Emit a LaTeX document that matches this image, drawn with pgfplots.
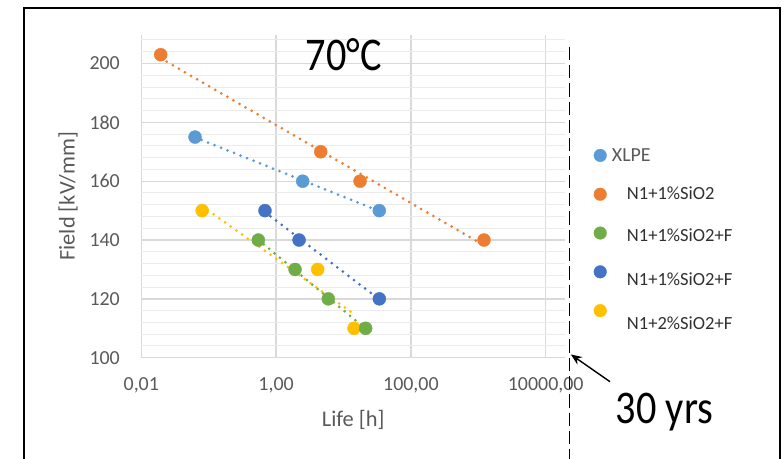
\documentclass[border=0pt]{standalone}
\usepackage{pgfplots}
\pgfplotsset{compat=1.18}
\usepackage{fontspec}
\setmainfont{Carlito}
\usetikzlibrary{arrows.meta}
\definecolor{cxlpe}{HTML}{5B9BD5}
\definecolor{corange}{HTML}{ED7D31}
\definecolor{cgreen}{HTML}{70AD47}
\definecolor{cblue}{HTML}{4472C4}
\definecolor{cyellow}{HTML}{FFC000}
\definecolor{ticktext}{HTML}{595959}
\definecolor{legtext}{HTML}{303030}
\definecolor{majgrid}{HTML}{D9D9D9}
\definecolor{mingrid}{HTML}{EBEBEB}
\begin{document}
\begin{tikzpicture}
\path[use as bounding box] (0bp,0bp) rectangle (784bp,459bp);
% outer frame
\draw[line width=2bp, black] (24bp,-5bp) -- (24bp,451bp) -- (779.7bp,451bp) -- (779.7bp,-5bp);
\begin{axis}[
  at={(141.3bp,101.3bp)}, anchor=south west,
  scale only axis, width=423.7bp, height=322.7bp,
  xmode=log, xmin=0.01, xmax=19320, ymin=100, ymax=209.7,
  axis lines*=left,
  x axis line style={draw=majgrid, line width=1.3bp},
  y axis line style={draw=none},
  major tick length=0pt, minor tick length=0pt,
  tick style={draw=none},
  xtick={0.01,1,100,10000},
  xticklabels={{0,01},{1,00},{100,00},{10000,00}},
  xminorticks=false,
  ytick={100,120,140,160,180,200},
  yticklabels={100,120,140,160,180,200},
  minor ytick={104,108,112,116,124,128,132,136,144,148,152,156,164,168,172,176,184,188,192,196,204,208},
  xmajorgrids, ymajorgrids, yminorgrids,
  major grid style={draw=majgrid, line width=1.3bp},
  minor grid style={draw=mingrid, line width=1bp},
  xticklabel style={font=\fontsize{20}{24}\selectfont, color=ticktext, inner sep=0pt, anchor=north, yshift=-20bp},
  yticklabel style={font=\fontsize{20}{24}\selectfont, color=ticktext, inner sep=0pt, anchor=east, xshift=-21.3bp},
  xlabel={Life [h]},
  ylabel={Field [kV/mm]},
  xlabel style={font=\fontsize{22.5}{27}\selectfont, color=ticktext, at={(axis description cs:0.5,-0.2138)}, anchor=base, inner sep=0pt},
  ylabel style={font=\fontsize{22.5}{27}\selectfont, color=ticktext, at={(axis description cs:-0.173,0.5)}, anchor=center, inner sep=0pt},
  clip=false,
  legend style={at={(axis description cs:1.0673,0.6875)}, anchor=north west, draw=none, fill=none, inner sep=0pt, row sep=0pt, column sep=5.2bp, font=\fontsize{20}{24}\selectfont, nodes={inner sep=0pt}},
  legend cell align=left,
  legend image code/.code={\path[draw=none,fill=none] (-6.5bp,-19.4bp) rectangle (6.5bp,19.4bp); \fill[#1] (0bp,0bp) circle (6.3bp);},
  scatterstyle/.style={only marks, mark=*, mark size=6.5bp, mark options={draw=none}},
  trendstyle/.style={no marks, line width=3bp, line cap=round, dash pattern=on 0pt off 7bp},
]
% data markers
\addplot[forget plot, scatterstyle, color=cxlpe] coordinates {(0.0627,175) (2.48,160) (33.9,150)};
\addplot[forget plot, scatterstyle, color=corange] coordinates {(0.0194,203) (4.59,170) (17.6,160) (1215,140)};
\addplot[forget plot, scatterstyle, color=cyellow] coordinates {(0.080,150) (4.14,130) (14.3,110)};
\addplot[forget plot, scatterstyle, color=cblue] coordinates {(0.684,150) (2.19,140) (34.0,120)};
\addplot[forget plot, scatterstyle, color=cgreen] coordinates {(0.545,140) (1.91,130) (5.95,120) (21.3,110)};
% trendlines
\addplot[forget plot, trendstyle, color=cxlpe] coordinates {(0.0627,174.9) (33.9,149.85)};
\addplot[forget plot, trendstyle, color=corange] coordinates {(0.0194,201.8) (1215,138.2)};
\addplot[forget plot, trendstyle, color=cgreen] coordinates {(0.545,140.05) (21.3,109.85)};
\addplot[forget plot, trendstyle, color=cblue] coordinates {(0.684,149.5) (34.0,119.8)};
\addplot[forget plot, trendstyle, color=cyellow] coordinates {(0.080,151.5) (14.3,114.85)};
% legend
\addlegendimage{only marks, color=cxlpe}
\addlegendentry{\textcolor{ticktext}{XLPE}}
\addlegendimage{only marks, color=corange}
\addlegendentry{\hspace{15bp}\raisebox{-5.8bp}[0pt][0pt]{\fontsize{18.6}{22}\selectfont\textcolor{legtext}{N1+1\%SiO2}}}
\addlegendimage{only marks, color=cgreen}
\addlegendentry{\hspace{15bp}\raisebox{-9bp}[0pt][0pt]{\fontsize{18.6}{22}\selectfont\textcolor{legtext}{N1+1\%SiO2+F}}}
\addlegendimage{only marks, color=cblue}
\addlegendentry{\hspace{15bp}\raisebox{-14.4bp}[0pt][0pt]{\fontsize{18.6}{22}\selectfont\textcolor{legtext}{N1+1\%SiO2+F}}}
\addlegendimage{only marks, color=cyellow}
\addlegendentry{\hspace{15bp}\raisebox{-20bp}[0pt][0pt]{\fontsize{18.6}{22}\selectfont\textcolor{legtext}{N1+2\%SiO2+F}}}
\end{axis}
% title and annotations
\node[anchor=base, inner sep=0pt] at (343.7bp,388bp) {\scalebox{0.86}[1]{\fontsize{47}{50}\selectfont 70°C}};
\node[anchor=base, inner sep=0pt] at (664.5bp,35.7bp) {\scalebox{0.86}[1]{\fontsize{47}{50}\selectfont 30 yrs}};
\draw[line width=1.4bp, dash pattern=on 13.3bp off 5bp] (569.7bp,412.3bp) -- (569.7bp,-2bp);
\draw[line width=1.4bp, -{Stealth[length=11bp,width=9bp]}] (610bp,77.3bp) -- (570.9bp,104.5bp);
\end{tikzpicture}
\end{document}
